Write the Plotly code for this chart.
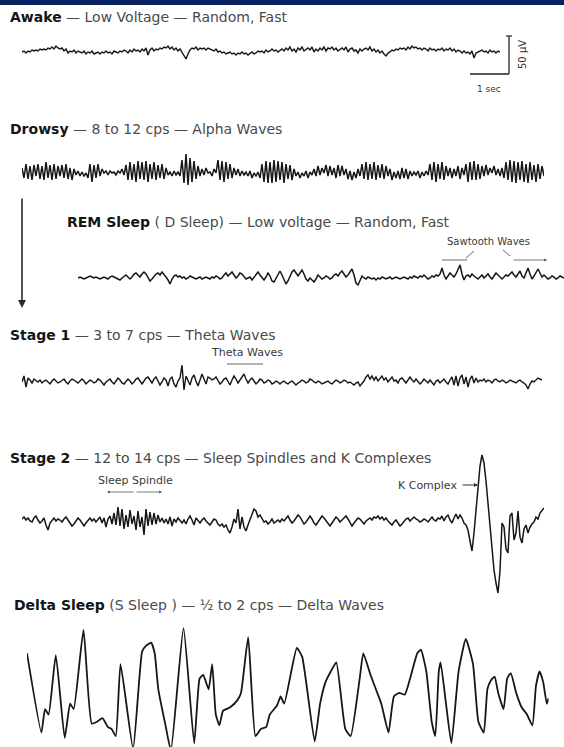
import numpy as np
import plotly.graph_objects as go

W, H = 564, 747

# ---------------- data (amplitudes, 1 unit ~ 1 px; 39 time-units = 1 sec) ----
awake_amp = [0,1,-1,1,0,2,1,2,1,3, 2,3,2,4,3,5,3,6,4,3, 4,1,3,-1,1,0,2,-1,1,0,
             -1,1,-2,0,-1,1,-2,-1,0,-2, 0,-1,1,-1,0,-2,1,0,-1,1, 0,2,1,-1,2,0,3,1,2,0,
             3,1,4,-3,2,4,1,3,2,4, 3,5,4,6,3,5,2,4,1,3, 0,-3,-7,-2,2,4,3,5,2,4,
             3,4,2,4,3,2,1,3,0,1, -1,0,-2,-1,0,-2,-1,-3,-1,-2, 0,-2,-1,-3,-1,0,-2,-1,1,0,
             1,-1,2,0,1,3,1,2,0,2, 3,1,4,2,5,1,3,0,4,2, 5,1,3,4,2,5,0,3,1,4,
             2,5,1,4,3,5,2,4,1,3, 4,2,5,0,3,4,1,2,-1,3, 1,3,4,2,5,1,3,0,2,-1,
             1,-2,-4,-1,0,2,1,3,2,4, 3,4,2,5,3,6,4,5,3,4, 2,4,3,1,4,2,3,1,3,2,
             4,1,3,2,4,1,3,0,2,1, -1,1,-1,0,-2,1,-6,-1,0,1, 2,0,1,-1,2,0,1,-1,1,0]

drowsy_amp = [4,-6,8,-7,6,-8,7,-4,8,-7, 6,-8,10,-6,7,-8,8,-7,6,-4, 7,-6,8,-7,4,-8,3,-3,1,-4,
              0,-4,-1,-6,8,-10,7,-6,8,-4, 3,-1,1,-3,1,-1,0,-3,1,-1, 3,-3,7,-8,10,-8,8,-10,11,-7,
              10,-8,11,-10,8,-7,10,-8,7,-6, 8,-7,4,-3,0,-4,1,-3,0,-4, 12,-11,18,-13,14,-10,11,-7,6,-4,
              3,-3,4,-1,0,-4,3,-1,12,-8, 11,-10,10,-7,8,-6,4,-3,3,-4, 1,-3,0,-4,1,-6,-1,-4,0,-6,
              8,-10,11,-11,10,-11,12,-10,11,-8, 10,-11,8,-7,7,-8,3,-4,0,-6, -1,-4,1,-6,0,-3,3,-4,6,-3,
              4,-1,7,-4,6,-3,4,-6,7,-4, 6,-3,3,-7,1,-8,0,-6,3,-4, 8,-7,10,-8,8,-7,10,-8,7,-6,
              8,-7,6,-4,3,-8,0,-6,1,-7, 4,-6,3,-7,1,-4,0,-3,1,-6, 0,-4,1,-3,8,-8,10,-10,8,-7,
              10,-8,6,-4,4,-6,3,-4,6,-7, 4,-3,8,-10,10,-8,11,-8,8,-7, 6,-4,7,-3,4,-1,6,-3,3,-4,
              4,-6,10,-8,12,-10,11,-11,10,-8, 11,-10,8,-11,10,-8,7,-10,8,-7, 6,-4]

rem_amp = [0,1,0,-1,0,1,2,1,0,1, 0,-1,0,1,0,-1,1,2,1,0, -1,-2,0,2,3,1,-1,1,4,5,
           3,1,4,6,4,0,-3,-1,2,4, 5,3,6,4,1,-2,-6,-1,2,3, 1,2,0,1,-1,0,2,1,0,-1,
           0,1,-1,0,1,0,-1,1,0,2, 1,-1,0,3,5,2,4,6,3,0, 2,5,4,1,-1,0,1,-2,1,3,
           6,3,0,-2,1,5,2,-3,-4,0, 4,7,3,-2,-6,-3,2,6,8,5, 2,5,8,4,-1,-3,0,-2,-4,-1,
           3,1,-1,0,2,1,-1,0,3,4, 2,5,7,4,1,3,6,9,3,-5, -7,-2,2,0,-1,1,0,-1,0,-2,
           0,-1,1,0,-1,0,1,-1,0,1, 0,-1,0,1,0,-1,1,0,2,1, 0,2,1,3,1,-1,0,2,1,3,
           2,4,10,3,-1,2,5,3,1,4, 8,13,4,-2,2,3,1,4,2,0, -1,1,3,0,2,4,1,-1,2,5,
           3,1,-1,1,3,2,4,6,3,1, 4,7,2,0,5,10,4,-1,2,6, 9,5,1,3,1,-1,0,2,1,-1, 0,2,1,0]

stage1_amp = [0,6,-5,4,2,-1,3,1,0,2, -1,1,2,0,-2,1,3,1,-1,0, 2,3,0,-2,1,3,2,0,-1,1,
              3,1,-2,0,2,1,-1,0,3,2, -1,-3,0,2,3,0,-2,1,4,2, -1,-2,1,3,1,-2,0,3,4,1,
              -2,1,4,5,2,-1,3,5,1,-3, 0,4,2,-4,3,5,-2,-5,1,4, 17,-8,6,2,-3,4,7,1,-4,2,
              8,3,-2,5,4,2,3,5,1,-2, 0,3,4,1,-3,2,6,3,-1,2, 5,8,3,-1,2,4,1,-2,0,3,
              2,-1,0,2,1,-2,-1,1,0,-2, 0,1,-1,-2,0,1,-1,-3,-1,0, 2,1,-1,0,3,2,0,-1,1,0,
              -2,-1,0,1,-1,-2,0,2,1,-1, 0,2,1,-1,0,-2,-3,-1,0,-4, -2,1,5,7,3,6,2,5,1,4,
              6,2,4,0,3,5,1,2,-1,3, 4,1,-1,2,5,2,0,3,1,-2, 0,3,1,-1,2,0,-3,1,2,-1,
              1,3,0,-2,2,5,-3,6,-4,4, 7,-2,5,-5,3,6,-1,4,0,2, 1,3,0,2,1,-1,2,3,1,0,
              2,1,-1,0,2,1,0,-1,1,2, 0,-1,-3,-7,-2,1,0,2,4,3, 2]

stage2_amp = [2,4,1,3,0,-1,3,5,1,-2, 0,3,-4,-9,-2,1,3,0,2,1, -1,2,4,1,-2,-5,-3,0,3,1,
              -2,-5,-2,1,3,0,2,-1,1,4, -2,3,-6,2,5,-3,8,-4,14,-5, 12,-8,6,-6,11,-3,5,-9,10,-6,
              4,-14,12,-5,9,-4,8,-3,6,-1, 3,-2,2,-3,4,-5,2,-1,3,0, -2,1,-3,2,5,1,-4,3,0,-2,
              1,3,0,-2,-4,-1,2,1,-3,-5, -3,-6,-4,-9,-12,-6,2,-2,12,-8, 4,-6,-10,-4,2,6,12,10,4,6,
              2,-1,0,-3,-1,2,-2,0,1,-1, 2,0,3,5,1,-2,0,3,6,4, 1,-3,-1,2,5,2,-2,-4,-1,3,
              5,3,0,-3,-5,-2,1,4,2,-1, 1,3,5,2,-2,-5,-2,1,3,2, -1,-3,0,2,3,1,4,3,5,2,
              4,1,3,0,-2,-4,-1,1,-2,-5, -3,0,2,3,0,2,4,2,1,-1, 0,2,1,-1,2,4,1,0,3,2,
              5,0,4,6,1,-2,3,7,2,6, 3,-2,-4,-9,-20,-30,-12,10,35,55, 66,58,40,18,-6,-30,-49,-62,-72,-50,
              -2,-6,-28,-32,5,8,-19,-12,10,-16, -22,-8,-4,-12,-6,-3,-1,4,2,8, 11,13]

delta_t = [0, 14.4, 18.0, 21.6, 28.8, 37.7, 43.1, 46.7, 56.5, 64.7,
           70.1, 75.5, 80.9, 84.5, 88.8, 93.5, 106.1, 115.1, 118.7, 124.1,
           127.7, 131.3, 138.5, 143.9, 156.5, 167.2, 172.6, 176.2, 181.6, 185.2,
           188.8, 192.4, 196.0, 203.2, 210.4, 214.0, 221.2, 228.4, 233.8, 239.2,
           242.8, 250.0, 253.6, 257.2, 269.8, 275.2, 287.7, 293.1, 298.5, 303.9,
           309.3, 318.3, 323.7, 332.7, 336.3, 343.5, 348.9, 354.3, 361.5, 366.9,
           372.3, 377.7, 383.1, 390.3, 393.9, 399.3, 404.7, 408.3, 411.8, 413.6,
           419.0, 424.4, 431.6, 438.8, 446.0, 451.4, 456.8, 460.4, 464.0, 467.6,
           471.2, 476.6, 480.2, 483.8, 489.2, 494.6, 500.0, 505.4, 509.0, 512.6,
           516.2, 519.8, 521.6]
delta_amp = [36.7, -42.5, -19.1, -24.5, 34.9, -47.9, -13.7, -19.1, 60.0, -33.5,
             -31.7, -28.1, -37.1, -38.9, -46.1, 25.9, -58.7, 38.5, 43.8, 47.4,
             36.7, 0.7, -35.3, -60.5, 61.8, -53.3, 11.5, 15.1, 0.7, 25.9,
             -24.5, -35.3, -20.9, -17.3, -10.1, -2.9, 52.8, -46.1, -38.9, -37.1,
             -24.5, -15.5, -6.5, -13.7, 42.0, 33.1, -51.5, -13.7, 7.9, 18.7,
             27.7, -38.9, -46.1, 11.5, 36.7, 15.1, 0.7, -13.7, -42.5, -6.5,
             -2.9, -4.7, 11.5, 36.7, 40.3, 18.7, -31.7, -46.1, 18.7, 27.7,
             -13.7, -53.3, 18.7, 51.0, 25.9, -31.7, -42.5, 0.7, 9.7, 13.3,
             -2.9, -19.1, 11.5, 16.9, -2.9, -17.3, -24.5, -35.3, 4.3, 18.7,
             7.9, -13.7, -8.3]

stage_bold = ["Awake", "Drowsy", "REM Sleep", "Stage 1", "Stage 2", "Delta Sleep"]
stage_rest = [" — Low Voltage — Random, Fast",
              " — 8 to 12 cps — Alpha Waves",
              " ( D Sleep) — Low voltage — Random, Fast",
              " — 3 to 7 cps — Theta Waves",
              " — 12 to 14 cps — Sleep Spindles and K Complexes",
              " (S Sleep ) — ½ to 2 cps — Delta Waves"]

# ---------------- layout helpers (pixel placement) ----------------
def px(x):
    return x / W

def py(y):
    return 1 - y / H

STEP = 2  # time units per sample for the uniformly sampled traces
# (values, times, x_start, baseline_y, up, down, line width, shape)
panels = [
    (awake_amp, None, 22, 52, 20, 20, 1.4, "linear"),
    (drowsy_amp, None, 22, 172, 25, 25, 1.5, "linear"),
    (rem_amp, None, 78, 278, 25, 25, 1.5, "linear"),
    (stage1_amp, None, 22, 382, 25, 22, 1.4, "linear"),
    (stage2_amp, None, 22, 521, 75, 80, 1.5, "linear"),
    (delta_amp, delta_t, 27, 690, 70, 57, 1.8, "spline"),
]

fig = go.Figure()
lay = {}
for k, (vals, times, x0, yb, up, dn, lw, shape) in enumerate(panels, start=1):
    vals = np.asarray(vals, dtype=float)
    t = np.arange(len(vals)) * STEP if times is None else np.asarray(times, dtype=float)
    length = float(t[-1])
    sfx = "" if k == 1 else str(k)
    fig.add_trace(go.Scatter(x=t, y=vals, mode="lines", xaxis="x" + sfx, yaxis="y" + sfx,
                             line=dict(color="#161616", width=lw, shape=shape, smoothing=0.45),
                             hoverinfo="skip", showlegend=False, cliponaxis=False))
    top_px = max(yb - up, 0)
    bot_px = min(yb + dn, H)
    lay["xaxis" + sfx] = dict(domain=[px(x0), px(x0 + length)], range=[0, length],
                              visible=False, fixedrange=True, anchor="y" + sfx)
    lay["yaxis" + sfx] = dict(domain=[py(bot_px), py(top_px)], range=[-(bot_px - yb), yb - top_px],
                              visible=False, fixedrange=True, anchor="x" + sfx)

fig.update_layout(**lay)

title_font = dict(family="DejaVu Sans, Liberation Sans, Arial", size=14, color="#151515")
label_font = dict(family="DejaVu Sans, Liberation Sans, Arial", size=11, color="#3a3a3a")

title_pos = [(8, 17), (8, 129), (65, 222), (8, 335), (8, 458), (12, 605)]
ann = []
for (bx, by), b, r in zip(title_pos, stage_bold, stage_rest):
    ann.append(dict(x=px(bx), y=py(by), xref="paper", yref="paper", xanchor="left", yanchor="middle",
                    text=f"<b>{b}</b><span style='color:#4a4a4a'>{r}</span>", showarrow=False,
                    font=title_font))

def label(x, y, text, font, anchor="center", angle=0):
    return dict(x=px(x), y=py(y), xref="paper", yref="paper", text=text, xanchor=anchor,
                yanchor="middle", textangle=angle, showarrow=False, font=font)

ann.append(label(488, 241, "Sawtooth Waves", dict(label_font, size=10)))
ann.append(label(247, 352, "Theta Waves", label_font))
ann.append(label(135, 480, "Sleep Spindle", label_font))
ann.append(label(459, 485, "K Complex", label_font, anchor="right"))
ann.append(label(522, 55, "50 µV", dict(label_font, size=10, color="#333"), angle=-90))
ann.append(label(489, 89, "1 sec", dict(label_font, size=9, color="#333")))

# arrows
def arrow(x1, y1, x0, y0, width=1.0, head=2, size=1.0, color="#333"):
    return dict(x=px(x1), y=py(y1), xref="paper", yref="paper", ax=x0 - x1, ay=y0 - y1,
                axref="pixel", ayref="pixel", showarrow=True, arrowhead=head, arrowsize=size,
                arrowwidth=width, arrowcolor=color, text="")

ann.append(arrow(22, 308, 22, 197, width=1.6, head=2, size=1.0, color="#2a2a2a"))
ann.append(arrow(478, 485, 461, 485, width=1.0, head=2, size=0.8))
ann.append(arrow(162, 492, 135, 492, width=0.8, head=2, size=0.7, color="#555"))
ann.append(arrow(107, 492, 135, 492, width=0.8, head=2, size=0.7, color="#555"))
ann.append(arrow(547, 260, 512, 260, width=0.8, head=2, size=0.7, color="#555"))
fig.update_layout(annotations=ann)

def seg(x0, y0, x1, y1, color="#555", width=0.9):
    return dict(type="line", xref="paper", yref="paper", x0=px(x0), x1=px(x1), y0=py(y0), y1=py(y1),
                line=dict(color=color, width=width))

shapes = [
    dict(type="rect", xref="paper", yref="paper", x0=0, x1=1, y0=py(5), y1=1,
         fillcolor="#0a2461", line=dict(width=0)),
    # scale bar
    seg(509, 36, 509, 74, "#222", 1.3),
    seg(470, 74, 509, 74, "#222", 1.3),
    seg(506, 36, 512, 36, "#222", 1.2),
    # sawtooth brackets and pointers
    seg(442, 260, 467, 260),
    seg(466, 258, 474, 251),
    seg(503, 250, 510, 256),
    # theta bracket
    seg(227, 364, 263, 364),
]
fig.update_layout(shapes=shapes)

fig.update_layout(width=W, height=H, margin=dict(l=0, r=0, t=0, b=0),
                  paper_bgcolor="white", plot_bgcolor="rgba(0,0,0,0)", showlegend=False)

fig.write_html("out.html", config={"displayModeBar": False},
               post_script="document.body.style.margin='0';document.body.style.overflow='hidden';")
